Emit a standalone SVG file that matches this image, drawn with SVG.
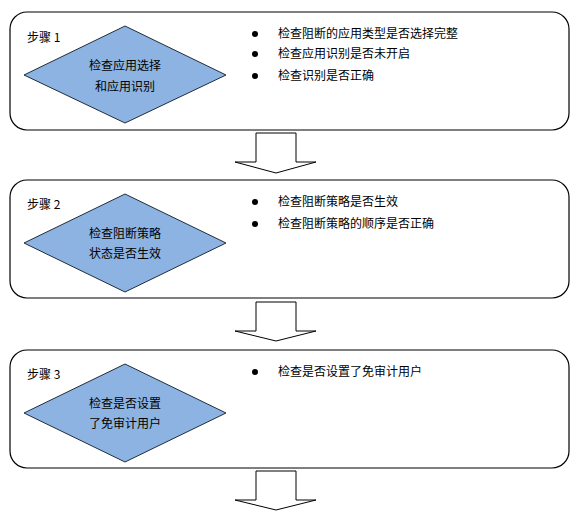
<svg xmlns="http://www.w3.org/2000/svg" width="579" height="514" viewBox="0 0 579 514">
<style>
.box{fill:#fff;stroke:#000;stroke-width:1.2}
.dia{fill:#8db3e2;stroke:#1f2d3d;stroke-width:1}
.arr{fill:#fff;stroke:#000;stroke-width:1}
text{font-family:"Microsoft YaHei","Noto Sans CJK SC",sans-serif;font-size:12px;fill:#000}
.c{text-anchor:middle}
.dot{fill:#000}
</style>
<rect width="579" height="514" fill="#fff"/>
<g id="step1">
<rect class="box" x="10" y="12" width="559" height="118" rx="17"/>
<text x="27" y="42">步骤 1</text>
<polygon class="dia" points="125,26 226,75 125,123 24,75"/>
<text class="c" x="125" y="70">检查应用选择</text>
<text class="c" x="125" y="91">和应用识别</text>
<circle class="dot" cx="255" cy="34" r="3"/>
<circle class="dot" cx="255" cy="54" r="3"/>
<circle class="dot" cx="255" cy="76" r="3"/>
<text x="278" y="38">检查阻断的应用类型是否选择完整</text>
<text x="278" y="58">检查应用识别是否未开启</text>
<text x="278" y="80">检查识别是否正确</text>
</g>
<g id="step2">
<rect class="box" x="10" y="180" width="559" height="118" rx="17"/>
<text x="27" y="209">步骤 2</text>
<polygon class="dia" points="125,194 226,243 125,292 24,243"/>
<text class="c" x="125" y="238">检查阻断策略</text>
<text class="c" x="125" y="258">状态是否生效</text>
<circle class="dot" cx="255" cy="202" r="3"/>
<circle class="dot" cx="255" cy="224" r="3"/>
<text x="278" y="206">检查阻断策略是否生效</text>
<text x="278" y="228">检查阻断策略的顺序是否正确</text>
</g>
<g id="step3">
<rect class="box" x="10" y="350" width="559" height="118" rx="17"/>
<text x="27" y="379">步骤 3</text>
<polygon class="dia" points="125,364 226,413 125,462 24,413"/>
<text class="c" x="125" y="408">检查是否设置</text>
<text class="c" x="125" y="428">了免审计用户</text>
<circle class="dot" cx="255" cy="372" r="3"/>
<text x="278" y="376">检查是否设置了免审计用户</text>
</g>
<g id="connectors">
<polygon class="arr" points="256,133 296,133 296,162 316,162 276,173 235,162 256,162"/>
<polygon class="arr" points="256,302 296,302 296,331 316,331 276,341 235,331 256,331"/>
<polygon class="arr" points="256,471 296,471 296,500 316,500 276,510 235,500 256,500"/>
</g>
</svg>
